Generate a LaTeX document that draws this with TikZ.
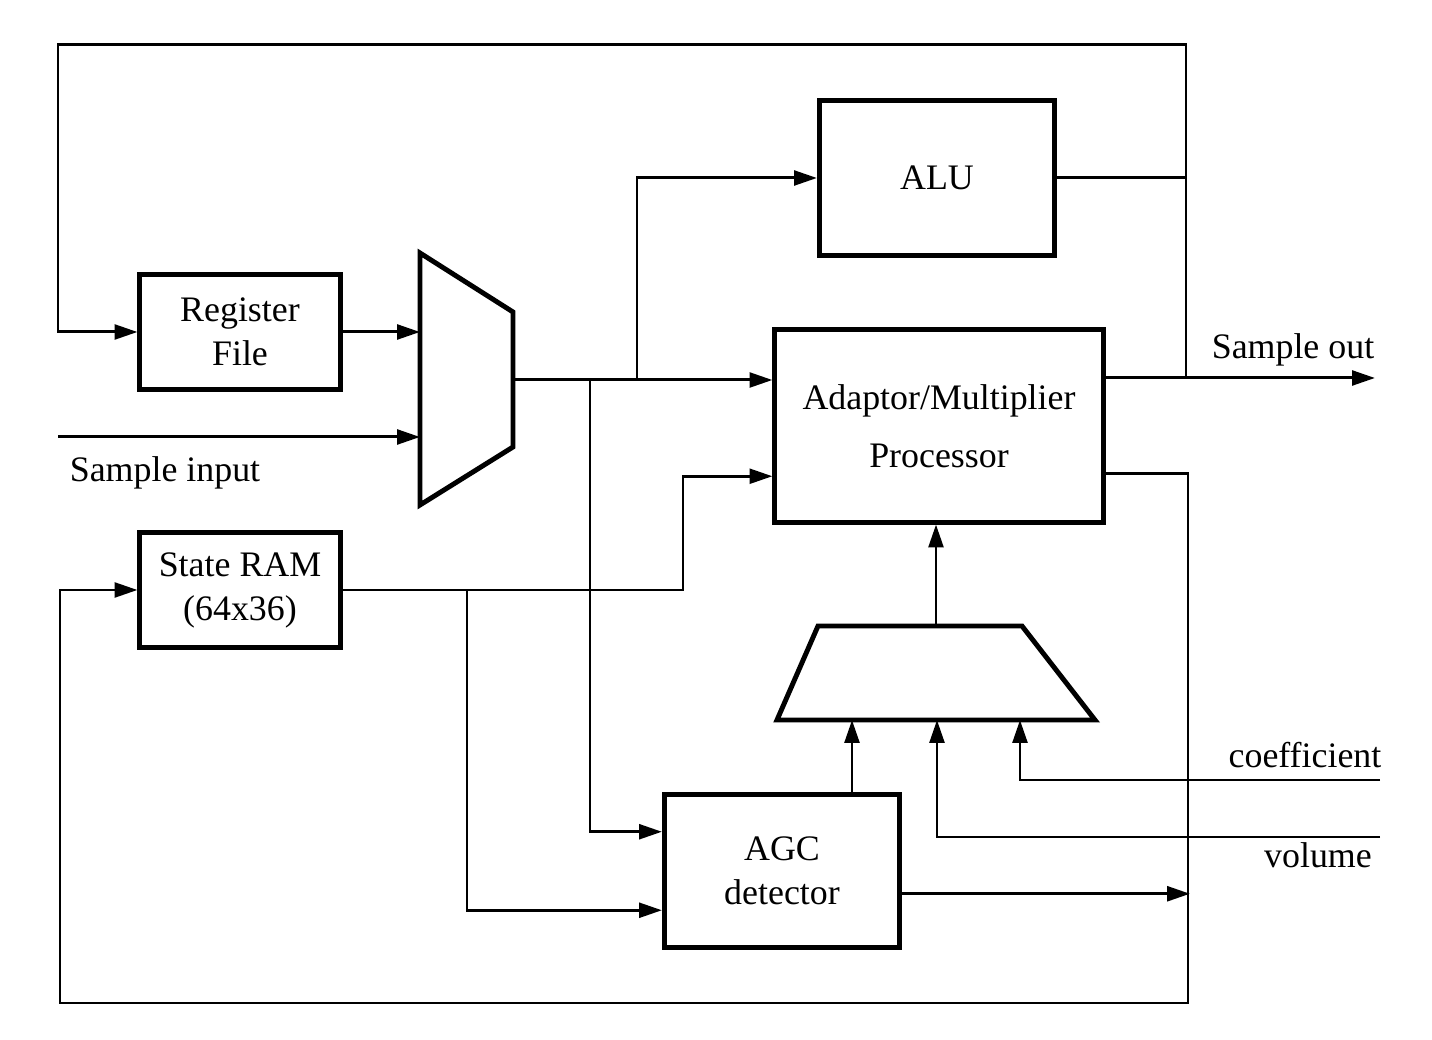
\documentclass[tikz,border=0pt]{standalone}
\usepackage{fontspec}
\setmainfont{Liberation Serif}
\usetikzlibrary{arrows.meta,calc}

\begin{document}
\begin{tikzpicture}[x=0.01cm,y=-0.01cm,
	font=\fontsize{10.2}{12.5}\selectfont,
	blk/.style={draw, line width=1.4pt, align=center, inner sep=0pt},
	wire/.style={line width=0.85pt},
	arr/.style={wire, -{Triangle[length=6.5pt,width=4.2pt]}}]
	\useasboundingbox (0,0) rectangle (1432,1040);
	\node[blk, minimum width=2cm, minimum height=1.15cm] (rf) at (240,332) {Register\\File};
	\node[blk, minimum width=2cm, minimum height=1.15cm] (ram) at (240,590) {State RAM\\(64x36)};
	\node[blk, minimum width=2.35cm, minimum height=1.55cm] (alu) at (937,178) {ALU};
	\node[blk, minimum width=3.28cm, minimum height=1.92cm] (amp) at (939,426) {Adaptor/Multiplier\\[4pt]Processor};
	\node[blk, minimum width=2.35cm, minimum height=1.52cm] (agc) at (782,871) {AGC\\detector};
	\draw[line width=1.4pt] (420,253) -- (513,312) -- (513,447) -- (420,505) -- cycle;
	\draw[line width=1.4pt] (818,626) -- (1022,626) -- (1095,720) -- (777,720) -- cycle;
	\coordinate (m1a) at (420,332);
	\coordinate (m1b) at (420,437);
	\coordinate (m1out) at (513,380);
	\coordinate (m2a) at (852,720);
	\coordinate (m2b) at (937,720);
	\coordinate (m2c) at (1020,720);
	\coordinate (m2out) at (936,626);
	\coordinate (sp1) at (637,380);
	\coordinate (sp2) at (590,380);
	\coordinate (sp3) at (467,590);
	\coordinate (kink) at (683,590);
	\coordinate (tl) at (58,45);
	\coordinate (jo) at (1186,378);
	\coordinate (br) at (1188,1003);
	\coordinate (bl) at (60,1003);
	\coordinate (sin) at (58,437);
	\coordinate (sout) at (1375,378);
	\coordinate (coef) at (1380,780);
	\coordinate (vol) at (1380,837);
	\node (lsin) at (165,473) {Sample input};
	\node (lsout) at (1293,350) {Sample out};
	\node (lcoef) at (1305,755) {coefficient};
	\node (lvol) at (1318,855) {volume};
	\draw[arr] (rf.east) -- (m1a);
	\draw[arr] (sin) -- (m1b);
	\draw[arr] (m1out) -- (m1out -| amp.west);
	\draw[arr] (sp1) |- (alu.west);
	\draw[arr] (sp2) |- ($(agc.north west)!0.25!(agc.south west)$);
	\draw[wire] (alu.east) -| (jo);
	\draw[arr] (alu.east -| jo) |- (tl) |- (rf.west);
	\draw[arr] (jo -| amp.east) -- (sout);
	\draw[arr] (ram.east) -- (kink) |- ($(amp.north west)!0.755!(amp.south west)$);
	\draw[arr] (sp3) |- ($(agc.north west)!0.75!(agc.south west)$);
	\draw[arr] ($(amp.north east)!0.74!(amp.south east)$) -| (br) -- (bl) |- (ram.west);
	\draw[arr] ($(agc.north east)!0.645!(agc.south east)$) -- ++(288,0);
	\draw[arr] (agc.north -| m2a) -- (m2a);
	\draw[arr] (m2out) -- (amp.south -| m2out);
	\draw[arr] (coef) -| (m2c);
	\draw[arr] (vol) -| (m2b);
\end{tikzpicture}
\end{document}
